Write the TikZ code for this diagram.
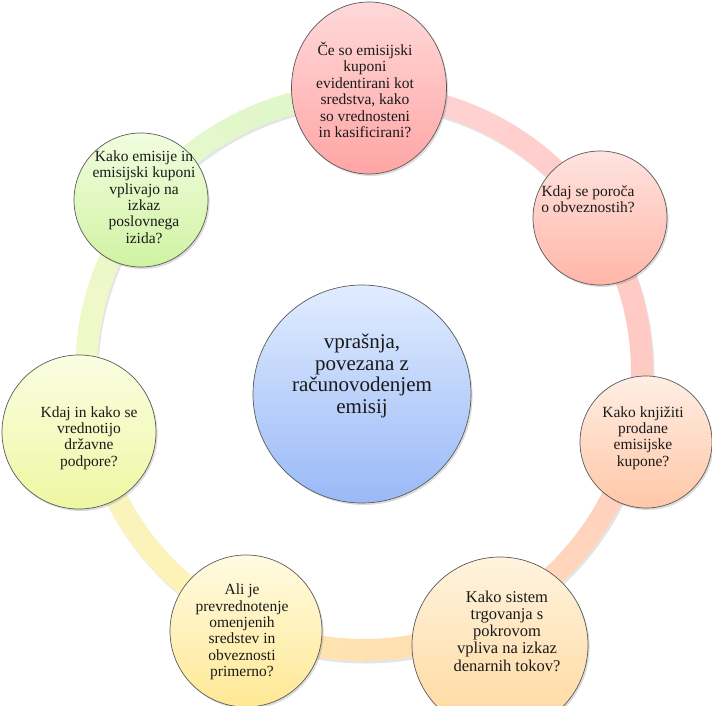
\documentclass[tikz,border=0pt]{standalone}
\usepackage{fontspec}
\setmainfont{Liberation Serif}
\usetikzlibrary{shadows,shapes.geometric}
\definecolor{txt}{HTML}{1A1A1A}
\definecolor{edge}{HTML}{5A5A5A}
% ring colours (start/end of each segment)
\definecolor{s0a}{HTML}{FFD6D6}\definecolor{s0b}{HTML}{FFCCCA}
\definecolor{s1a}{HTML}{FFCCC8}\definecolor{s1b}{HTML}{FFC9C0}
\definecolor{s2a}{HTML}{FFCFC0}\definecolor{s2b}{HTML}{FFD8B8}
\definecolor{s3a}{HTML}{FFDDB2}\definecolor{s3b}{HTML}{FFE6B0}
\definecolor{s4a}{HTML}{FFF0B4}\definecolor{s4b}{HTML}{F8F6C0}
\definecolor{s5a}{HTML}{F4F9C8}\definecolor{s5b}{HTML}{EAF8C8}
\definecolor{s6a}{HTML}{E6F9CE}\definecolor{s6b}{HTML}{DDF6C8}
% node colours
\definecolor{c0t}{HTML}{FFD9D9}\definecolor{c0b}{HTML}{FFA5A5}
\definecolor{c1t}{HTML}{FFE3DF}\definecolor{c1b}{HTML}{FFB6A8}
\definecolor{c2t}{HTML}{FFEEE4}\definecolor{c2b}{HTML}{FFC7A7}
\definecolor{c3t}{HTML}{FFF3DE}\definecolor{c3b}{HTML}{FFD89C}
\definecolor{c4t}{HTML}{FFFBE2}\definecolor{c4b}{HTML}{FFE894}
\definecolor{c5t}{HTML}{FAFEE2}\definecolor{c5b}{HTML}{EEF7A2}
\definecolor{c6t}{HTML}{F1FDE0}\definecolor{c6b}{HTML}{D0F3A2}
\definecolor{cct}{HTML}{E1ECFF}\definecolor{ccb}{HTML}{99B9F7}
\begin{document}
\begin{tikzpicture}[x=1pt,y=-1pt,
  ball/.style={circle, draw=edge, line width=0.7pt, inner sep=0pt,
    drop shadow={opacity=0.28, shadow xshift=1.6pt, shadow yshift=-2pt}},
  qtext/.style={align=center, text=txt, inner sep=0pt,
    font=\rmfamily\fontsize{15.5}{16.4}\selectfont},
  qbig/.style={qtext, font=\rmfamily\fontsize{16.5}{17.3}\selectfont},
  ctext/.style={align=center, text=txt, inner sep=0pt,
    font=\rmfamily\fontsize{21}{21.8}\selectfont}]
\useasboundingbox (0,0) rectangle (712,706);
\coordinate (rc) at (364,372);
% ring shadow
\draw[line width=22pt, black, opacity=0.10] ([shift={(1.5,2.5)}]rc) circle[radius=278];
% ring band
\foreach \k/\ca/\cb in {0/s0a/s0b,1/s1a/s1b,2/s2a/s2b,3/s3a/s3b,4/s4a/s4b,5/s5a/s5b,6/s6a/s6b}{
  \foreach \j in {0,...,9}{
    \pgfmathsetmacro\st{-90+51.428571*\k+5.142857*\j}
    \pgfmathsetmacro\en{\st+5.35}
    \pgfmathtruncatemacro\p{\j*10+5}
    \draw[line width=22pt, color=\cb!\p!\ca] (rc) ++(\st:278) arc[start angle=\st, end angle=\en, radius=278];
  }
}
% satellites
\node[ball, ellipse, minimum width=155pt, minimum height=172pt, top color=c0t, bottom color=c0b] (n0) at (369,88) {};
\node[ball, minimum size=134pt, top color=c1t, bottom color=c1b] (n1) at (600,218) {};
\node[ball, minimum size=132pt, top color=c2t, bottom color=c2b] (n2) at (646,442) {};
\node[ball, minimum size=176pt, top color=c3t, bottom color=c3b] (n3) at (500,645) {};
\node[ball, minimum size=152pt, top color=c4t, bottom color=c4b] (n4) at (246,631) {};
\node[ball, minimum size=154pt, top color=c5t, bottom color=c5b] (n5) at (79,432) {};
\node[ball, minimum size=134pt, top color=c6t, bottom color=c6b] (n6) at (141,200) {};
\node[ball, minimum size=218pt, top color=cct, bottom color=ccb] (nc) at (362,394) {};
% texts
\node[qtext] (t0) at (365,90) {Če so emisijski\\kuponi\\evidentirani kot\\sredstva, kako\\so vrednosteni\\in kasificirani?};
\node[qtext] (t1) at (588,199) {Kdaj se poroča\\o obveznostih?};
\node[qtext] (t2) at (643,438) {Kako knjižiti\\prodane\\emisijske\\kupone?};
\node[qbig] (t3) at (507,631) {Kako sistem\\trgovanja s\\pokrovom\\vpliva na izkaz\\denarnih tokov?};
\node[qtext] (t4) at (242,632) {Ali je\\prevrednotenje\\omenjenih\\sredstev in\\obveznosti\\primerno?};
\node[qtext] (t5) at (89,438) {Kdaj in kako se\\vrednotijo\\državne\\podpore?};
\node[qtext] (t6) at (144,197) {Kako emisije in\\emisijski kuponi\\vplivajo na\\izkaz\\poslovnega\\izida?};
\node[ctext] (tc) at (362,376) {vprašnja,\\povezana z\\računovodenjem\\emisij};
\end{tikzpicture}
\end{document}
